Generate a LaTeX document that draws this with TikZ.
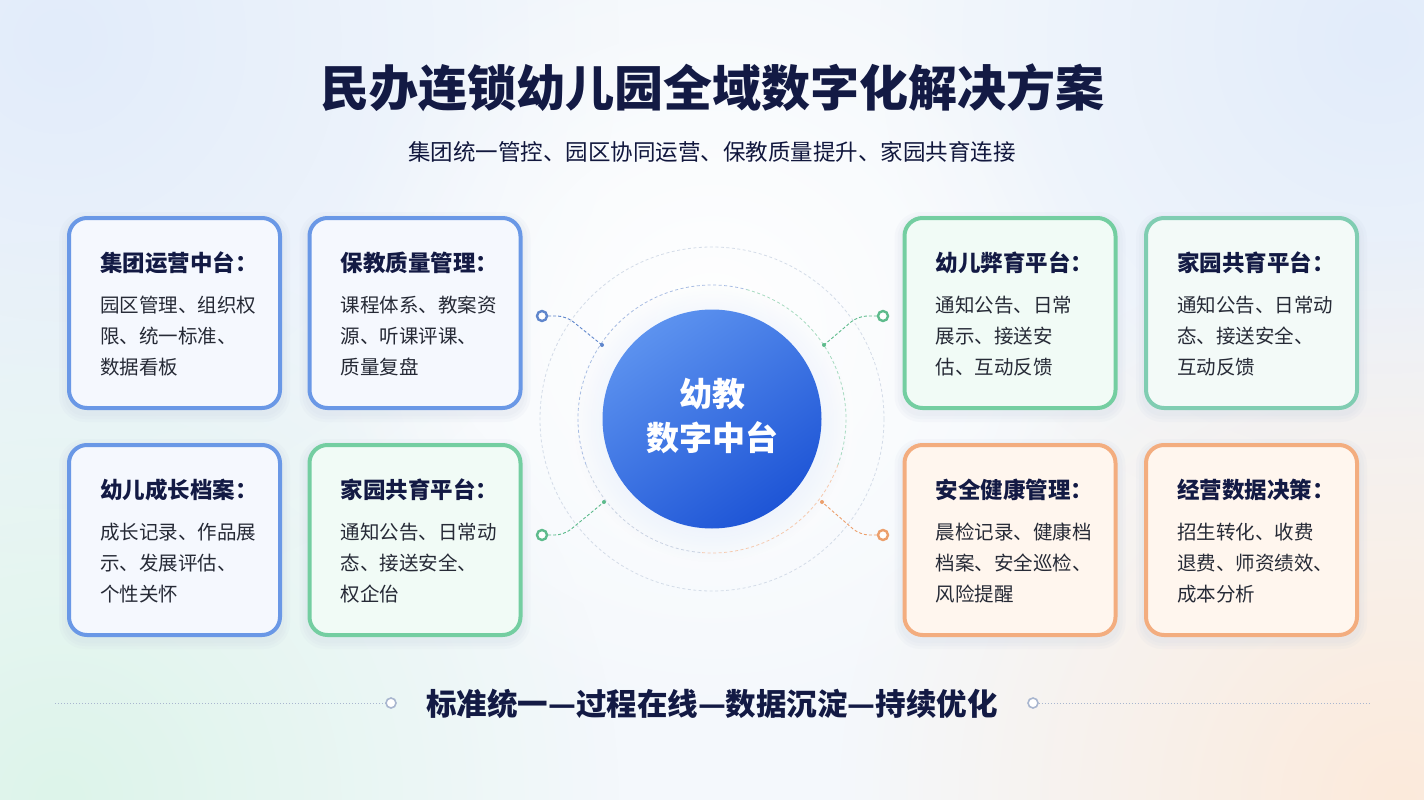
\documentclass[tikz,border=0pt]{standalone}
\usepackage{fontspec}
\setmainfont{Noto Sans CJK SC}
\usetikzlibrary{fadings}
\definecolor{bgbase}{HTML}{F4F8FC}
\definecolor{bgmint}{HTML}{DDF4EA}
\definecolor{bgpeach}{HTML}{FCEADB}
\definecolor{bgblue}{HTML}{E2ECFA}
\definecolor{navy}{HTML}{131A44}
\definecolor{bodytxt}{HTML}{262A36}
\definecolor{cblue}{HTML}{6A98E6}
\definecolor{fblue}{HTML}{F5F8FE}
\definecolor{cgreen}{HTML}{74CEA1}
\definecolor{fgreen}{HTML}{F1FBF6}
\definecolor{cteal}{HTML}{80CDB2}
\definecolor{fteal}{HTML}{F3FAF8}
\definecolor{corange}{HTML}{F3AD7F}
\definecolor{forange}{HTML}{FFF6EE}
\definecolor{hubA}{HTML}{5C92EF}
\definecolor{hubB}{HTML}{1E55D6}
\definecolor{glowblue}{HTML}{C9DBFA}
\definecolor{lnblue}{HTML}{5F86CC}
\definecolor{lngreen}{HTML}{5DBB8C}
\definecolor{lnorange}{HTML}{EC9F6C}
\definecolor{ringgrey}{HTML}{C9D3E2}
\definecolor{dotgrey}{HTML}{A9B6CF}
\definecolor{shadowc}{HTML}{C8D2E2}
\tikzfading[name=glowfade, inner color=transparent!0, outer color=transparent!100]
\newcommand\mkcard[9]{%
  \foreach \s in {2,5,8}{%
    \fill[shadowc, opacity=0.10, rounded corners=18pt+\s pt] (#2-107.5-\s,#3-97-\s+4) rectangle (#2+107.5+\s,#3+97+\s+4);}
  \node[card, draw=#4, fill=#5] (#1) at (#2,#3) {};
  \node[cardtitle] (#1t) at ([xshift=33pt,yshift=-55pt]#1.north west) {#6};
  \node[cardbody] (#1a) at ([xshift=33pt,yshift=-96pt]#1.north west) {#7};
  \node[cardbody] (#1b) at ([xshift=33pt,yshift=-127pt]#1.north west) {#8};
  \node[cardbody] (#1c) at ([xshift=33pt,yshift=-158pt]#1.north west) {#9};
}
\begin{document}
\begin{tikzpicture}[x=1pt,y=-1pt,
  card/.style={rounded corners=18pt, line width=4pt, minimum width=211pt, minimum height=190pt},
  cardtitle/.style={anchor=base west, inner sep=0pt, text=navy, font=\fontsize{22.5}{24}\selectfont\bfseries},
  cardbody/.style={anchor=base west, inner sep=0pt, text=bodytxt, font=\fontsize{19.5}{22}\selectfont},
  marker/.style={circle, inner sep=0pt, minimum size=10pt, line width=2.4pt, fill=white},
  link/.style={densely dashed, line width=0.9pt, rounded corners=9pt},
  ringdash/.style={dash pattern=on 3pt off 2.5pt, line width=0.8pt},
  enddot/.style={circle, inner sep=0pt, minimum size=4pt},
]
\useasboundingbox (0,0) rectangle (1424,800);
% background
\begin{scope}
\clip (0,0) rectangle (1424,800);
\fill[bgbase] (0,0) rectangle (1424,800);
\fill[bgblue, path fading=glowfade] (60,40) circle (560);
\fill[bgblue, path fading=glowfade] (1380,40) circle (500);
\fill[bgmint, path fading=glowfade] (60,800) circle (560);
\fill[bgpeach, path fading=glowfade] (1400,800) circle (560);
\fill[white, path fading=glowfade] (712,330) circle (400);
\end{scope}

% titles
\node[anchor=base, inner sep=0pt, text=navy, font=\fontsize{49}{52}\selectfont\bfseries] (title) at (712,106) {民办连锁幼儿园全域数字化解决方案};
\node[anchor=base, inner sep=0pt, text=navy!90!black, font=\fontsize{22.5}{26}\selectfont] (subtitle) at (712,160) {集团统一管控、园区协同运营、保教质量提升、家园共育连接};

% hub glow and rings
\fill[white, path fading=glowfade] (712,419) circle (175);
\fill[glowblue, path fading=glowfade] (712,424) circle (138);
\draw[ringdash, ringgrey!80] (712,419) circle (172);
\draw[ringdash, lnblue!55] (712,419) ++(160:134) arc (160:285:134);
\draw[ringdash, lngreen!55] (712,419) ++(285:134) arc (285:380:134);
\draw[ringdash, lnorange!55] (712,419) ++(20:134) arc (20:95:134);
\draw[ringdash, ringgrey] (712,419) ++(95:134) arc (95:160:134);

% hub
\node[circle, minimum size=219pt, inner sep=0pt, top color=hubA, bottom color=hubB, shading angle=35] (hub) at (712,419) {};
\node[anchor=base, inner sep=0pt, text=white, font=\fontsize{33}{36}\selectfont\bfseries] (hubA) at (712,406) {幼教};
\node[anchor=base, inner sep=0pt, text=white, font=\fontsize{33}{36}\selectfont\bfseries] (hubB) at (712,450) {数字中台};

% cards
\mkcard{c1}{174.5}{313}{cblue}{fblue}{集团运营中台：}{园区管理、组织权}{限、统一标准、}{数据看板}
\mkcard{c2}{415}{313}{cblue}{fblue}{保教质量管理：}{课程体系、教案资}{源、听课评课、}{质量复盘}
\mkcard{c3}{1010}{313}{cgreen}{fgreen}{幼儿弊育平台：}{通知公告、日常}{展示、接送安}{估、互动反馈}
\mkcard{c4}{1251.5}{313}{cteal}{fteal}{家园共育平台：}{通知公告、日常动}{态、接送安全、}{互动反馈}
\mkcard{c5}{174.5}{540}{cblue}{fblue}{幼儿成长档案：}{成长记录、作品展}{示、发展评估、}{个性关怀}
\mkcard{c6}{415}{540}{cgreen}{fgreen}{家园共育平台：}{通知公告、日常动}{态、接送安全、}{权企佁}
\mkcard{c7}{1010}{540}{corange}{forange}{安全健康管理：}{晨检记录、健康档}{档案、安全巡检、}{风险提醒}
\mkcard{c8}{1251.5}{540}{corange}{forange}{经营数据决策：}{招生转化、收费}{退费、师资绩效、}{成本分析}

% connectors
\node[marker, draw=lnblue] (m1) at (542,316) {};
\node[marker, draw=lngreen] (m2) at (883,316) {};
\node[marker, draw=lngreen] (m3) at (542,535) {};
\node[marker, draw=lnorange] (m4) at (883,535) {};
\coordinate (k1) at (566,316);
\coordinate (k2) at (858,316);
\coordinate (k3) at (564,535);
\coordinate (k4) at (860,535);
\node[enddot, fill=lnblue] (p1) at (602,345) {};
\node[enddot, fill=lngreen] (p2) at (824,345) {};
\node[enddot, fill=lngreen] (p3) at (604,502) {};
\node[enddot, fill=lnorange] (p4) at (822,502) {};
\draw[link, lnblue] (m1) -- (k1) -- (p1.center);
\draw[link, lngreen] (m2) -- (k2) -- (p2.center);
\draw[link, lngreen] (m3) -- (k3) -- (p3.center);
\draw[link, lnorange] (m4) -- (k4) -- (p4.center);

% bottom slogan
\node[anchor=base, inner sep=0pt, text=navy, font=\fontsize{30.5}{32}\selectfont\bfseries] (slogan) at (712,715) {标准统一—过程在线—数据沉淀—持续优化};
\node[circle, inner sep=0pt, minimum size=10pt, draw=dotgrey, line width=1.6pt, fill=white] (b1) at (391,703) {};
\node[circle, inner sep=0pt, minimum size=10pt, draw=dotgrey, line width=1.6pt, fill=white] (b2) at (1033,703) {};
\coordinate (e1) at (55,703);
\coordinate (e2) at (1370,703);
\draw[dotgrey, line width=1pt, dash pattern=on 1.2pt off 1.8pt] (e1) -- (b1);
\draw[dotgrey, line width=1pt, dash pattern=on 1.2pt off 1.8pt] (b2) -- (e2);
\end{tikzpicture}
\end{document}
